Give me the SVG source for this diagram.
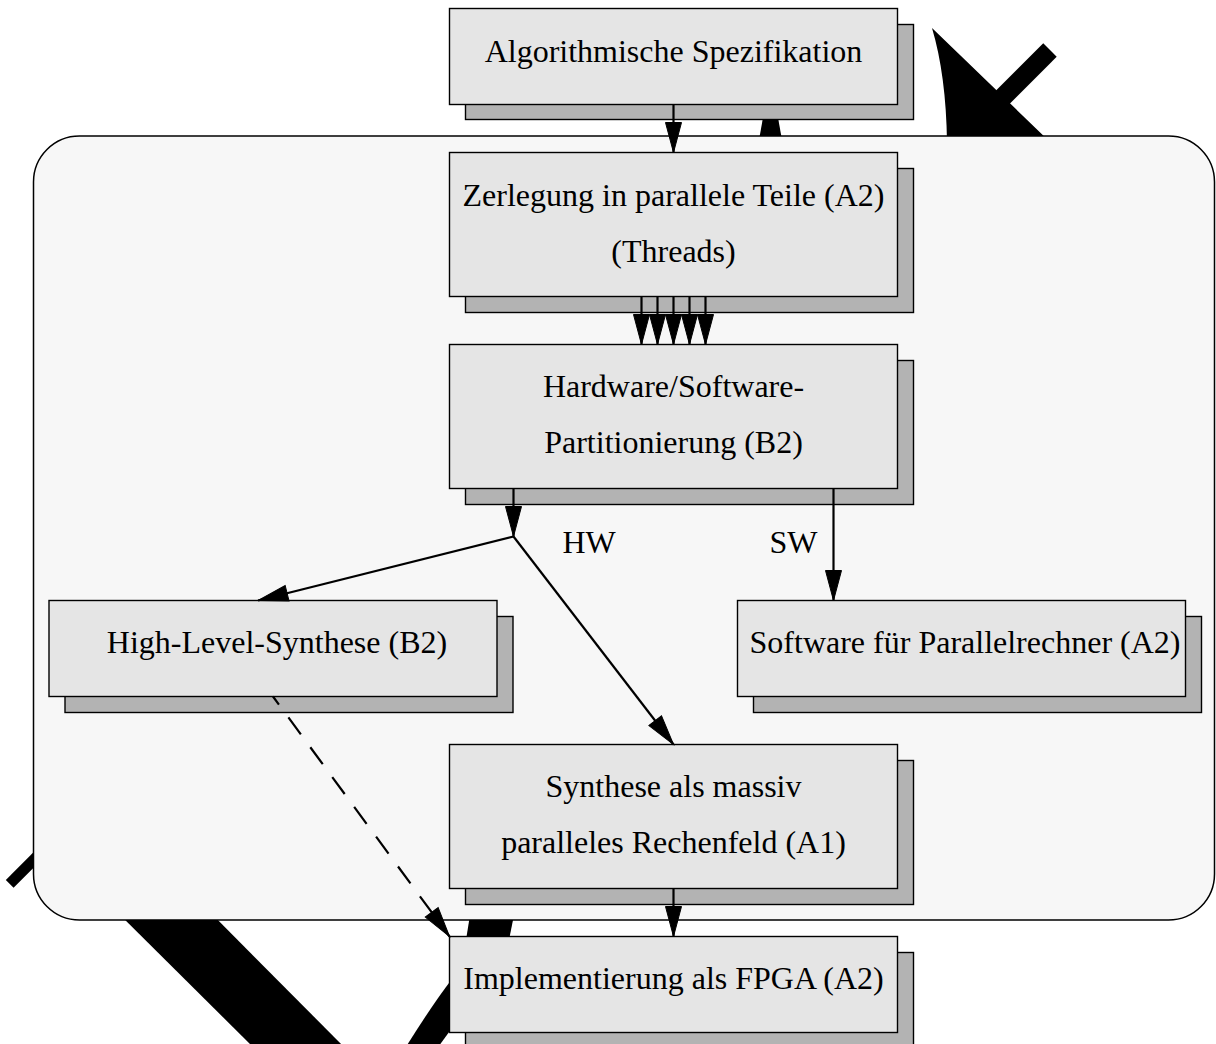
<svg xmlns="http://www.w3.org/2000/svg" width="1216" height="1044" viewBox="0 0 1216 1044">
<style>
.front{fill:#e5e5e5;stroke:#000;stroke-width:1.4}
.shadow{fill:#b3b3b3;stroke:#000;stroke-width:1.4}
.lbl{font-family:"Liberation Serif","Times New Roman",serif;font-size:32px;fill:#000;text-anchor:middle}
.lbl2{font-family:"Liberation Serif","Times New Roman",serif;font-size:32px;fill:#000}
.conn{fill:none;stroke:#000;stroke-width:2.2}
.blk{fill:#000;stroke:none}
</style>
<defs>
<marker id="ah" markerUnits="userSpaceOnUse" markerWidth="34" markerHeight="20" viewBox="-1 -10 34 20" refX="30" refY="0" orient="auto">
<path d="M0,-8 L30,0 L0,8 Z" fill="#000" stroke="#000" stroke-width="1" stroke-linejoin="miter"/>
</marker>
</defs>
<rect width="1216" height="1044" fill="#fff"/>
<g id="artifacts">
<path class="blk" d="M932,28 Q946,75 947,142 L1050,142 Z"/>
<line x1="1050" y1="50" x2="985" y2="115" stroke="#000" stroke-width="19"/>
<polygon class="blk" points="764,112 777,112 782,140 759,140"/>
<polygon class="blk" points="470,915 514,915 509,940 466,940"/>
<path class="blk" d="M452,979 Q432,1005 404,1050 L436,1050 L452,1028 Z"/>
<polygon class="blk" points="105,900 198,900 347,1050 256,1050"/>
<line x1="9.7" y1="883.8" x2="70" y2="823.5" stroke="#000" stroke-width="11"/>
</g>
<g id="container">
<rect x="33.5" y="136" width="1181" height="784" rx="46" ry="46" fill="#f7f7f7" stroke="#000" stroke-width="1.5"/>
</g>
<g id="n1">
<rect class="shadow" x="465.5" y="24.5" width="448" height="95"/>
<rect class="front" x="449.5" y="8.5" width="448" height="96"/>
<text class="lbl" x="673.5" y="62">Algorithmische Spezifikation</text>
</g>
<g id="n2">
<rect class="shadow" x="465.5" y="168.5" width="448" height="144"/>
<rect class="front" x="449.5" y="152.5" width="448" height="144"/>
<text class="lbl" x="673.5" y="206">Zerlegung in parallele Teile (A2)</text>
<text class="lbl" x="673.5" y="262">(Threads)</text>
</g>
<g id="n3">
<rect class="shadow" x="465.5" y="360.5" width="448" height="144"/>
<rect class="front" x="449.5" y="344.5" width="448" height="144"/>
<text class="lbl" x="673.5" y="397">Hardware/Software-</text>
<text class="lbl" x="673.5" y="453">Partitionierung (B2)</text>
</g>
<g id="n4">
<rect class="shadow" x="65" y="616.5" width="448" height="96"/>
<rect class="front" x="49" y="600.5" width="448" height="96"/>
<text class="lbl" x="277" y="653">High-Level-Synthese (B2)</text>
</g>
<g id="n5">
<rect class="shadow" x="753.5" y="616.5" width="448" height="96"/>
<rect class="front" x="737.5" y="600.5" width="448" height="96"/>
<text class="lbl" x="965" y="653">Software für Parallelrechner (A2)</text>
</g>
<g id="n6">
<rect class="shadow" x="465.5" y="760.5" width="448" height="144"/>
<rect class="front" x="449.5" y="744.5" width="448" height="144"/>
<text class="lbl" x="673.5" y="797">Synthese als massiv</text>
<text class="lbl" x="673.5" y="853">paralleles Rechenfeld (A1)</text>
</g>
<g id="n7">
<rect class="shadow" x="465.5" y="952.5" width="448" height="96"/>
<rect class="front" x="449.5" y="936.5" width="448" height="96"/>
<text class="lbl" x="673.5" y="989">Implementierung als FPGA (A2)</text>
</g>
<g id="connectors">
<line class="conn" x1="673.5" y1="104.5" x2="673.5" y2="152.5" marker-end="url(#ah)"/>
<line class="conn" x1="641.5" y1="296.5" x2="641.5" y2="344.5" marker-end="url(#ah)"/>
<line class="conn" x1="657.5" y1="296.5" x2="657.5" y2="344.5" marker-end="url(#ah)"/>
<line class="conn" x1="673.5" y1="296.5" x2="673.5" y2="344.5" marker-end="url(#ah)"/>
<line class="conn" x1="689.5" y1="296.5" x2="689.5" y2="344.5" marker-end="url(#ah)"/>
<line class="conn" x1="705.5" y1="296.5" x2="705.5" y2="344.5" marker-end="url(#ah)"/>
<line class="conn" x1="513.5" y1="488.5" x2="513.5" y2="536.5" marker-end="url(#ah)"/>
<line class="conn" x1="513.5" y1="536.5" x2="258" y2="600.5" marker-end="url(#ah)"/>
<line class="conn" x1="513.5" y1="536.5" x2="673.5" y2="744.5" marker-end="url(#ah)"/>
<line class="conn" x1="833.5" y1="488.5" x2="833.5" y2="600.5" marker-end="url(#ah)"/>
<line class="conn" x1="273" y1="696.5" x2="449.5" y2="936.5" stroke-dasharray="21 16" stroke-dashoffset="11" marker-end="url(#ah)"/>
<line class="conn" x1="673.5" y1="888.5" x2="673.5" y2="936.5" marker-end="url(#ah)"/>
<text class="lbl2" x="562.5" y="553">HW</text>
<text class="lbl2" x="769.5" y="553">SW</text>
</g>
</svg>
